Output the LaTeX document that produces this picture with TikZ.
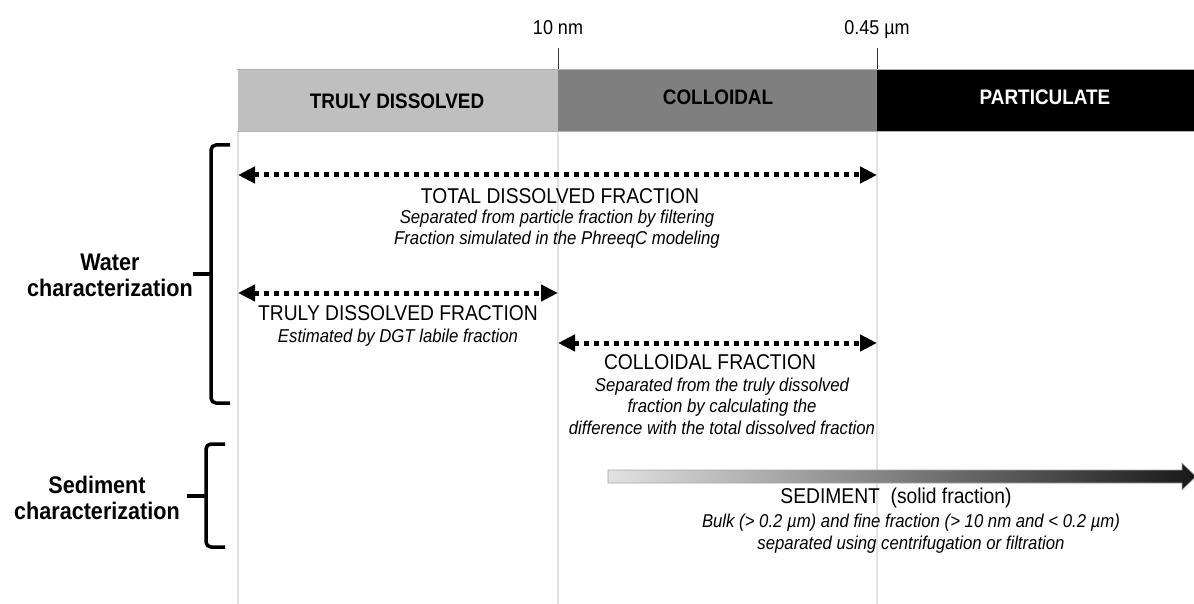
\documentclass[tikz,border=0pt]{standalone}
\usepackage{fontspec}
\setmainfont{Liberation Sans}[FakeStretch=0.9]
\usetikzlibrary{arrows.meta}
\definecolor{lgray}{HTML}{BFBFBF}
\definecolor{mgray}{HTML}{7F7F7F}
\definecolor{gridgray}{HTML}{E3E3E3}
\definecolor{sedlight}{HTML}{E2E2E2}
\definecolor{seddark}{HTML}{181818}
\newcommand\fsz[2]{\fontsize{#1}{#2}\selectfont}
\begin{document}
\begin{tikzpicture}[x=1pt,y=-1pt,
  barbox/.style={inner sep=0pt, outer sep=0pt, minimum height=62pt},
  barlabel/.style={font=\fsz{21}{24}\bfseries, inner sep=0pt},
  title/.style={font=\fsz{21.4}{24}, inner sep=0pt},
  note/.style={font=\fsz{18.6}{21.5}\itshape, align=center, inner sep=0pt},
  side/.style={font=\fsz{24}{26}\bfseries, align=center, inner sep=0pt},
  ticklabel/.style={font=\fsz{20}{22}, inner sep=0pt, anchor=base},
  dotarrow/.style={line width=5pt, dash pattern=on 5pt off 5pt,
    {Triangle[length=17pt,width=16pt]}-{Triangle[length=17pt,width=16pt]}},
  bracepath/.style={line width=3.5pt, rounded corners=5pt},
  gridline/.style={gridgray, line width=1.5pt},
  tickline/.style={black!80, line width=0.8pt},
  edgeline/.style={black!30, line width=0.8pt}
]
\useasboundingbox (0,0) rectangle (1194,604);

% grid lines
\draw[gridline] (238,131) -- (238,604);
\draw[gridline] (558,131) -- (558,604);
\draw[gridline] (877,131) -- (877,604);
\draw[tickline] (558,48) -- (558,69);
\draw[tickline] (877,48) -- (877,69);

% tick labels
\node[ticklabel] (t10) at (558,35) {10 nm};
\node[ticklabel] (t045) at (877,35) {0.45 µm};

% bars
\node[barbox, fill=lgray, minimum width=320pt] (btd) at (397.5,100) {};
\node[barbox, fill=mgray, minimum width=319pt] (bcol) at (717.5,100) {};
\node[barbox, fill=black, minimum width=317pt] (bpart) at (1035.5,100) {};
\draw[edgeline] (237,69) -- (1194,69);
\draw[edgeline] (237,131) -- (1194,131);
\node[barlabel] (ltd) at (397,101) {TRULY DISSOLVED};
\node[barlabel] (lcol) at (718,97) {COLLOIDAL};
\node[barlabel, text=white] (lpart) at (1045,97) {PARTICULATE};

% dotted double arrows
\coordinate (tdL) at (238,175);
\coordinate (tdR) at (877,175);
\coordinate (trL) at (238,293);
\coordinate (trR) at (558,293);
\coordinate (coL) at (558,343);
\coordinate (coR) at (877,343);
\draw[dotarrow] (tdL) -- (tdR);
\draw[dotarrow] (trL) -- (trR);
\draw[dotarrow] (coL) -- (coR);

% texts
\node[title] (tdt) at (560,196) {TOTAL DISSOLVED\ FRACTION};
\node[note] (tdn) at (557,229) {Separated from particle fraction by filtering\\Fraction simulated in the PhreeqC modeling};
\node[title] (trt) at (398,313) {TRULY DISSOLVED\ FRACTION};
\node[note] (trn) at (398,338) {Estimated by DGT labile fraction};
\node[title] (cot) at (710,362) {COLLOIDAL FRACTION};
\node[note] (con) at (722,406) {Separated from the truly dissolved\\fraction by calculating the\\difference with the total dissolved fraction};

% sediment arrow
\coordinate (sedL) at (608,476.5);
\coordinate (sedR) at (1196,476.5);
\path[left color=sedlight, right color=seddark, draw=black!35, line width=0.6pt]
  (608,470) -- (1182,470) -- (1182,463) -- (sedR) -- (1182,490) -- (1182,483) -- (608,483) -- cycle;
\node[title] (sedt) at (896,498) {SEDIMENT\ \ (solid fraction)};
\node[note] (sedn) at (911,533.5) {Bulk (> 0.2 µm) and fine fraction (> 10 nm and < 0.2 µm)\\separated using centrifugation or filtration};

% side labels and braces
\node[side] (water) at (110,275) {Water\\characterization};
\node[side] (sedlab) at (97,498) {Sediment\\characterization};
\draw[bracepath] (230,145) -- (211,145) -- (211,403) -- (230,403);
\draw[line width=3.5pt] (193,274) -- (211,274);
\draw[bracepath] (225,444) -- (206,444) -- (206,547) -- (225,547);
\draw[line width=3.5pt] (187,496) -- (206,496);
\end{tikzpicture}
\end{document}
